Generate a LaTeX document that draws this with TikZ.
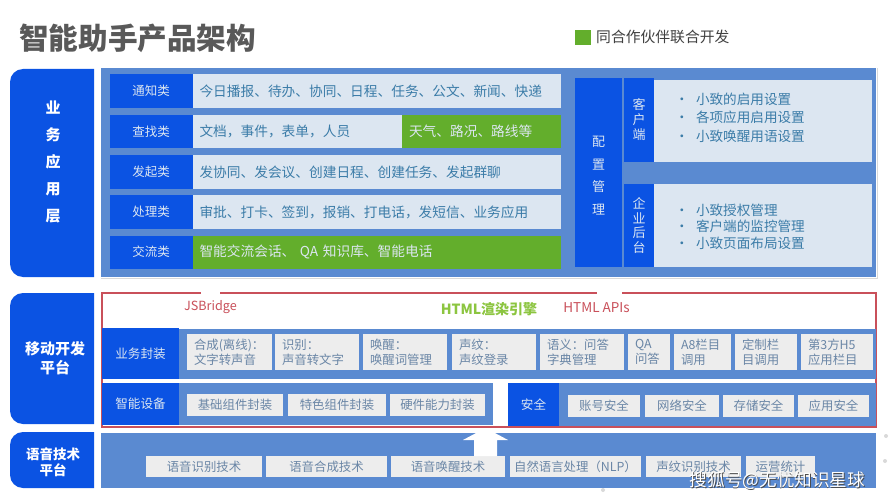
\documentclass[tikz,border=0pt]{standalone}
\usepackage{fontspec}
\setmainfont{Noto Sans CJK SC}
\usetikzlibrary{positioning}
\definecolor{deepblue}{HTML}{0B53E3}
\definecolor{panelblue}{HTML}{5A8AD1}
\definecolor{paleblue}{HTML}{DCE6F1}
\definecolor{leafgreen}{HTML}{63AE2C}
\definecolor{enginegreen}{HTML}{8CC540}
\definecolor{framered}{HTML}{C9505A}
\definecolor{cellgrey}{HTML}{EDEDED}
\definecolor{inktext}{HTML}{3B7CA8}
\definecolor{greytext}{HTML}{6A86A6}
\newcommand{\fs}[2]{\fontsize{#1}{#2}\selectfont}
\newcommand{\sideblock}[5]{%
  \fill[deepblue] (94,#2) -- (94,#2) [rounded corners=13pt] -- (10,#2) -- (10,#3) [sharp corners] -- (94,#3) -- cycle;
  \node[sidetext,#5] (#1) at (52,{(#2+#3)/2}) {#4};
}
\begin{document}
\begin{tikzpicture}[
x=1pt,y=-1pt,
cell/.style={
  draw=none,
  inner xsep=7pt,
  inner ysep=0pt,
  outer sep=0pt,
  align=left
  },
tagcell/.style={
  cell,
  fill=deepblue,
  text=paleblue,
  inner xsep=0pt,
  align=center,
  font=\fs{12.5}{15}
  },
rowcell/.style={
  cell,
  fill=paleblue,
  text=inktext,
  font=\fs{13.7}{16}
  },
greencell/.style={
  rowcell,
  fill=leafgreen,
  text=paleblue
  },
smallcell/.style={
  cell,
  fill=cellgrey,
  text=greytext,
  font=\fs{12.4}{15}
  },
sidetext/.style={
  text=white,
  inner sep=0pt,
  align=center,
  font=\bfseries\fs{15}{27}
  }
]
\useasboundingbox (0,0) rectangle (889,500);
\fill[white] (0,0) rectangle (889,500);

% heading
\node[anchor=west,inner sep=0pt,text=black!65,font=\bfseries\fs{29.6}{32}] (title) at (19,38) {智能助手产品架构};
\node[fill=leafgreen,minimum width=16pt,minimum height=15pt,inner sep=0pt] (legendbox) at (583,37.5) {};
\node[anchor=west,inner sep=0pt,text=black!75,font=\fs{14.8}{16}] (legend) at (596,37) {同合作伙伴联合开发};

% left column
\sideblock{appside}{69}{277}{业\\务\\应\\用\\层}{yshift=11.5pt,xshift=1pt}
\sideblock{mobileside}{293}{424}{移动开发\\平台}{font=\bfseries\fs{15}{19},xshift=3pt}
\sideblock{voiceside}{432}{488}{语音技术\\平台}{font=\bfseries\fs{13.5}{16},xshift=1pt,yshift=-2pt}

% application layer
\draw[black!15,line width=.8pt] (101,278.5) -- (877.5,278.5) -- (877.5,68);
\node[fill=panelblue,minimum width=775pt,minimum height=209pt,inner sep=0pt] (apppanel) at (488.5,172.5) {};
\foreach \nm/\lab/\ya/\yb/\xe/\txt in {
  notify/通知类/74/108/561/{今日播报、待办、协同、日程、任务、公文、新闻、快递},
  search/查找类/115/148/402/{文档，事件，表单，人员},
  start/发起类/155/189/561/{发协同、发会议、创建日程、创建任务、发起群聊},
  handle/处理类/195/229/561/{审批、打卡、签到，报销、打电话，发短信、业务应用}}
{
  \node[tagcell,minimum width=83pt,minimum height={(\yb-\ya)*1pt}] (\nm tag) at (151,{(\ya+\yb)/2}) {\lab};
  \pgfmathsetmacro{\cellw}{\xe-192.5-14}
  \node[rowcell,text width=\cellw pt,minimum height={(\yb-\ya)*1pt},anchor=west] (\nm) at (\nm tag.east) {\txt};
}
\node[greencell,text width=145pt,minimum height=33pt,anchor=west] (weather) at (search.east) {天气、路况、路线等};
\node[tagcell,minimum width=83pt,minimum height=33pt] (chattag) at (151,252) {交流类};
\node[greencell,text width=354pt,minimum height=33pt,anchor=west] (chat) at (chattag.east) {智能交流会话、 QA 知识库、智能电话};

% configuration
\node[tagcell,minimum width=47pt,minimum height=189pt] (config) at (598.5,172.5) {};
\node[text=paleblue,inner sep=0pt,align=center,font=\fs{13}{22.5}] (configtext) at (598.5,175.5) {配\\置\\管\\理};
\node[tagcell,minimum width=30pt,minimum height=84pt,font=\fs{13}{15}] (clienttag) at (639,120) {客\\户\\端};
\node[tagcell,minimum width=30pt,minimum height=83pt,font=\fs{13}{14.7}] (admintag) at (639,225.5) {企\\业\\后\\台};
\node[rowcell,minimum width=218pt,minimum height=82pt,inner xsep=0pt] (clientbox) at (763,121) {};
\node[rowcell,minimum width=218pt,minimum height=83pt,inner xsep=0pt] (adminbox) at (763,225.5) {};
\node[rowcell,anchor=west,inner xsep=0pt,font=\fs{13.6}{18.5}] (clientlist) at (675,117.5) {
  \makebox[21pt][l]{•}小致的启用设置\\\makebox[21pt][l]{•}各项应用启用设置\\\makebox[21pt][l]{•}小致唤醒用语设置};
\node[rowcell,anchor=west,inner xsep=0pt,font=\fs{13.6}{16.5}] (adminlist) at (675,226.5) {
  \makebox[21pt][l]{•}小致授权管理\\\makebox[21pt][l]{•}客户端的监控管理\\\makebox[21pt][l]{•}小致页面布局设置};

% mobile platform
\node[draw=framered,line width=1.2pt,minimum width=774pt,minimum height=134pt,inner sep=0pt] (frame) at (489,360) {};
\foreach \gapa/\gapb in {201/220,597/622}
  \fill[white] (\gapa,291) rectangle (\gapb,295);
\node[text=framered,inner sep=0pt,font=\fs{12.6}{16}] (jsbridge) at (210.5,307.5) {JSBridge};
\node[text=enginegreen,inner sep=0pt,font=\bfseries\fs{14}{16}] (engine) at (489,309) {HTML渲染引擎};
\node[text=framered,inner sep=0pt,font=\fs{13.5}{16}] (apis) at (596.5,308) {HTML APIs};

\node[fill=panelblue,minimum width=697pt,minimum height=50pt,inner sep=0pt] (wrapband) at (527.5,354) {};
\node[tagcell,minimum width=77pt,minimum height=51pt,font=\fs{12.6}{15}] (wraptag) at (140.5,353.5) {业务封装};
\foreach \nm/\xa/\xb/\txt in {
  synth/187/272/{合成(离线)：\\文字转声音},
  recog/275/359/{识别：\\声音转文字},
  wake/363/447/{唤醒：\\唤醒词管理},
  voiceprint/452/536/{声纹：\\声纹登录},
  semantic/540/624/{语义：问答\\字典管理},
  qa/628/670/{QA\\问答},
  atop/674/731/{A8栏目\\调用},
  custom/735/797/{定制栏\\目调用},
  third/801/873/{第3方H5\\应用栏目}}
{
  \pgfmathsetmacro{\cellw}{\xb-\xa-14}
  \node[smallcell,text width=\cellw pt,minimum height=36pt] (\nm) at ({(\xa+\xb)/2},352) {\txt};
}
\node[fill=panelblue,minimum width=314pt,minimum height=42pt,inner sep=0pt] (deviceband) at (336,404) {};
\node[tagcell,minimum width=77pt,minimum height=42pt,font=\fs{12.6}{15}] (devicetag) at (140.5,404) {智能设备};
\node[fill=panelblue,minimum width=317pt,minimum height=43pt,inner sep=0pt] (safeband) at (717.5,404.5) {};
\node[tagcell,minimum width=51pt,minimum height=43pt,font=\fs{12.6}{15}] (safetag) at (533.5,404.5) {安全};
\foreach \nm/\xa/\xb/\yc/\txt in {
  basekit/187/283/405/基础组件封装,
  special/288/386/405/特色组件封装,
  hardware/390/485/405/硬件能力封装,
  account/568/640/405.5/账号安全,
  network/645/719/405.5/网络安全,
  storage/723/794/405.5/存储安全,
  appsafe/798/869/405.5/应用安全}
{
  \node[smallcell,inner xsep=0pt,align=center,minimum width={(\xb-\xa)*1pt},minimum height=22pt] (\nm) at ({(\xa+\xb)/2},\yc) {\txt};
}

% voice platform
\node[fill=panelblue,minimum width=775pt,minimum height=55pt,inner sep=0pt] (voicepanel) at (488.5,460.5) {};
\foreach \nm/\xa/\xb/\txt in {
  asr/146/262/语音识别技术,
  tts/266/387/语音合成技术,
  wakeup/391/505/语音唤醒技术,
  nlp/510/641/自然语言处理（NLP）,
  print/646/741/声纹识别技术,
  stats/746/815/运营统计}
{
  \node[smallcell,inner xsep=0pt,align=center,minimum width={(\xb-\xa)*1pt},minimum height=21pt] (\nm) at ({(\xa+\xb)/2},466.5) {\txt};
}
\fill[white] (485.5,428) -- (508,440) -- (497,440) -- (497,456) -- (474,456) -- (474,440) -- (463,440) -- cycle;

% watermark and dots
\node[text=black!70,inner sep=0pt,font=\fs{17.6}{19}] (markshade) at (778.2,481.7) {搜狐号@无忧知识星球};
\node[text=white,inner sep=0pt,font=\fs{17.6}{19}] (mark) at (777.5,481) {搜狐号@无忧知识星球};
\foreach \xd/\yd in {886/436,885/461,603/490}
  \fill[black!15] (\xd,\yd) circle (2pt);
\end{tikzpicture}
\end{document}
